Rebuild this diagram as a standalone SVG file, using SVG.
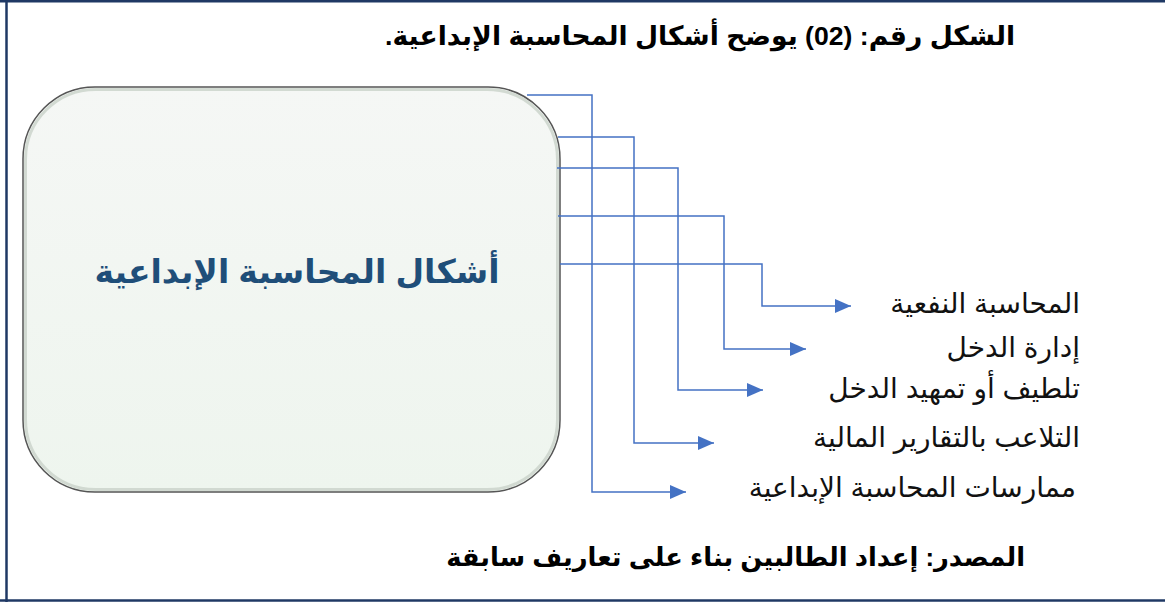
<svg xmlns="http://www.w3.org/2000/svg" width="1165" height="602" viewBox="0 0 1165 602">
<style>
.frame{stroke:#1f3864;stroke-width:2.5;fill:none}
.conn{stroke:#4472c4;stroke-width:1.5;fill:none}
.lbl{font-family:"Liberation Sans","DejaVu Sans",sans-serif;font-size:28px;fill:#111}
.ttl{font-family:"Liberation Sans","DejaVu Sans",sans-serif;font-size:26.6px;font-weight:bold;fill:#000}
.src{font-family:"Liberation Sans","DejaVu Sans",sans-serif;font-size:25.8px;font-weight:bold;fill:#000}
.main{font-family:"Liberation Sans","DejaVu Sans",sans-serif;font-size:33px;font-weight:bold;fill:#1f4e79}
</style>
<defs>
<linearGradient id="boxg" x1="0" y1="0" x2="0" y2="1">
<stop offset="0" stop-color="#f5f7f5"/>
<stop offset="1" stop-color="#eef5ee"/>
</linearGradient>
<marker id="arr" viewBox="0 0 16 14" refX="16" refY="7" markerWidth="16" markerHeight="14" markerUnits="userSpaceOnUse" orient="auto">
<path d="M0,0 L16,7 L0,14 Z" fill="#4472c4"/>
</marker>
</defs>
<rect width="1165" height="602" fill="#fff"/>
<g id="frame">
<line class="frame" x1="0" y1="1.2" x2="1165" y2="1.2"/>
<line class="frame" x1="6.5" y1="0" x2="6.5" y2="602"/>
<line class="frame" x1="0" y1="600.5" x2="1165" y2="600.5"/>
</g>
<g id="title">
<text class="ttl" x="1015" y="45" direction="rtl" text-anchor="start">الشكل رقم: (02) يوضح أشكال المحاسبة الإبداعية.</text>
</g>
<g id="node-main">
<rect x="23" y="87" width="537" height="405" rx="72" ry="72" fill="url(#boxg)" stroke="#555" stroke-width="1.5"/>
<rect x="25.5" y="89.5" width="532" height="400" rx="70" ry="70" fill="none" stroke="#c9d2c9" stroke-width="3" opacity="0.8"/>
<text class="main" x="297" y="283" text-anchor="middle" direction="rtl">أشكال المحاسبة الإبداعية</text>
</g>
<g id="connectors">
<polyline class="conn" points="527,95 592,95 592,492 686,492" marker-end="url(#arr)"/>
<polyline class="conn" points="558,137 634,137 634,443 714,443" marker-end="url(#arr)"/>
<polyline class="conn" points="557,168 678,168 678,390 763,390" marker-end="url(#arr)"/>
<polyline class="conn" points="558,216 724,216 724,349 806,349" marker-end="url(#arr)"/>
<polyline class="conn" points="560,264 762,264 762,306 851,306" marker-end="url(#arr)"/>
</g>
<g id="node-1"><text class="lbl" x="1080" y="313" direction="rtl" text-anchor="start">المحاسبة النفعية</text></g>
<g id="node-2"><text class="lbl" x="1080" y="357" direction="rtl" text-anchor="start">إدارة الدخل</text></g>
<g id="node-3"><text class="lbl" x="1080" y="398" direction="rtl" text-anchor="start">تلطيف أو تمهيد الدخل</text></g>
<g id="node-4"><text class="lbl" x="1080" y="447" direction="rtl" text-anchor="start">التلاعب بالتقارير المالية</text></g>
<g id="node-5"><text class="lbl" x="1076" y="497" direction="rtl" text-anchor="start">ممارسات المحاسبة الإبداعية</text></g>
<g id="source">
<text class="src" x="1025" y="566" direction="rtl" text-anchor="start">المصدر: إعداد الطالبين بناء على تعاريف سابقة</text>
</g>
</svg>
